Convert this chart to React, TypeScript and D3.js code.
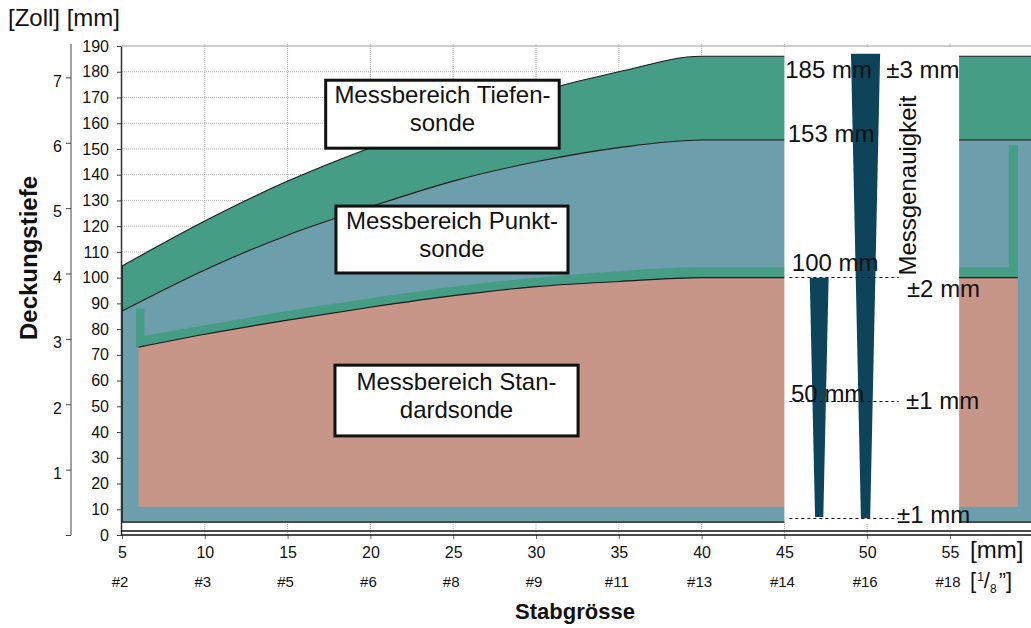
import React, { useEffect, useRef } from 'react';
import * as d3 from 'd3';

// bar sizes (x) and tick labels
const X_TICKS = [5, 10, 15, 20, 25, 30, 35, 40, 45, 50, 55];
const BAR_NAMES = ['#2', '#3', '#5', '#6', '#8', '#9', '#11', '#13', '#14', '#16', '#18'];
const MM_TICKS = [0, 10, 20, 30, 40, 50, 60, 70, 80, 90, 100, 110, 120, 130, 140, 150, 160, 170, 180, 190];
const INCH_TICKS = [0, 1, 2, 3, 4, 5, 6, 7];
const GRID_Y = [10, 20, 30, 40, 50, 60, 70, 80, 90, 100, 110, 120, 130, 140, 150, 160, 170, 180];

// measuring ranges (cover depth in mm vs bar size in mm)
const CURVE_X = [5, 10, 15, 20, 25, 30, 35, 40, 60];
const TIEFEN_TOP = [104.5, 122, 137.5, 150.5, 162, 172, 180, 186, 186];
const PUNKT_TOP = [87, 103, 116.5, 127.5, 137.5, 145, 150.5, 153.5, 153.5];
const STD_X = [6, 10, 15, 20, 25, 30, 35, 40, 59.1];
const STD_TOP = [73, 78, 83.5, 88.5, 93, 96.5, 98.5, 100, 100];
const BAND_TOP = [77, 81.5, 87, 92, 96.5, 100, 102.5, 104, 104];
const BASE_DEPTH = 5;
const STD_BOTTOM = 11;
// the two vertical strips of the band: [x0, x1, bottom, top]
const BAND_BARS = [
    [5.85, 6.35, 73, 88],
    [58.55, 59.1, 100, 151.5],
];

// accuracy panel
const GAP = [45, 55.55];
// wedges: centre x, top depth, bottom depth, half width top, half width bottom
const WEDGES = [
    [47.1, 100, 7, 0.57, 0.25],
    [49.9, 187, 6.5, 0.88, 0.28],
];
const DASH_DEPTHS = [100.2, 52, 6.6];
const DEPTH_LABELS = [
    { text: '185 mm', x: 45.05, d: 177.5 },
    { text: '153 mm', x: 45.2, d: 152.7 },
    { text: '100 mm', x: 45.45, d: 102.6 },
    { text: '50 mm', x: 45.4, d: 51.7 },
];
const ACC_LABELS = [
    { text: '±3 mm', x: 51.15, d: 177.5 },
    { text: '±2 mm', x: 52.4, d: 92.5 },
    { text: '±1 mm', x: 52.35, d: 48.9 },
    { text: '±1 mm', x: 51.8, d: 4.6 },
];

// label boxes: x0, x1, top depth, bottom depth
const BOXES = [
    { lines: ['Messbereich Tiefen-', 'sonde'], box: [17.3, 31.4, 176.7, 150.3] },
    { lines: ['Messbereich Punkt-', 'sonde'], box: [17.92, 31.93, 127.8, 101.8] },
    { lines: ['Messbereich Stan-', 'dardsonde'], box: [17.86, 32.54, 66, 38.5] },
];

const FONT = '"Liberation Sans", Arial, sans-serif';
const GREEN = '#449d84';
const TEAL = '#6c9fab';
const SALMON = '#c89689';
const NAVY = '#0e4459';

export default function App() {
    const svgRef = useRef<SVGSVGElement>(null);

    useEffect(() => {
        if (!svgRef.current) return;
        const svg = d3.select(svgRef.current);
        svg.selectAll('*').remove();

        const x = d3.scaleLinear().domain([5, 60]).range([122, 1032.8]);
        const y = d3.scaleLinear().domain([0, 190]).range([535, 46]);
        const yIn = d3.scaleLinear().domain([0, 190 / 25.4]).range([535, 46]);

        // grid
        const grid = svg.append('g');
        GRID_Y.forEach(v => {
            grid.append('line')
                .attr('x1', x(5)).attr('x2', x(60))
                .attr('y1', y(v)).attr('y2', y(v))
                .attr('stroke', '#b5b5b5').attr('stroke-width', 1)
                .attr('stroke-dasharray', '1,1');
        });
        X_TICKS.slice(1).forEach(v => {
            grid.append('line')
                .attr('x1', x(v)).attr('x2', x(v))
                .attr('y1', y(0)).attr('y2', y(190) - 3)
                .attr('stroke', '#b5b5b5').attr('stroke-width', 1)
                .attr('stroke-dasharray', '1,1');
        });
        grid.append('line')
            .attr('x1', x(5)).attr('x2', x(60))
            .attr('y1', y(190)).attr('y2', y(190))
            .attr('stroke', '#999').attr('stroke-width', 1.2);

        // areas
        const areas = svg.append('g');
        const idx = CURVE_X.map((_, i) => i);
        const areaBetween = (xs: number[], lo: (i: number) => number, hi: (i: number) => number) =>
            d3.area<number>()
                .x(i => x(xs[i]))
                .y0(i => y(lo(i)))
                .y1(i => y(hi(i)))
                .curve(d3.curveMonotoneX);

        areas.append('path')
            .attr('d', areaBetween(CURVE_X, () => BASE_DEPTH, i => PUNKT_TOP[i])(idx))
            .attr('fill', TEAL);
        areas.append('path')
            .attr('d', areaBetween(CURVE_X, i => PUNKT_TOP[i], i => TIEFEN_TOP[i])(idx))
            .attr('fill', GREEN);

        const sIdx = STD_X.map((_, i) => i);
        areas.append('path')
            .attr('d', areaBetween(STD_X, () => STD_BOTTOM, i => STD_TOP[i])(sIdx))
            .attr('fill', SALMON);
        areas.append('path')
            .attr('d', areaBetween(STD_X, i => STD_TOP[i], i => BAND_TOP[i])(sIdx))
            .attr('fill', GREEN);
        BAND_BARS.forEach(([x0, x1, b, t]) => {
            areas.append('rect')
                .attr('x', x(x0)).attr('width', x(x1) - x(x0))
                .attr('y', y(t)).attr('height', y(b) - y(t))
                .attr('fill', GREEN);
        });

        // outlines
        const line = (xs: number[], ys: number[]) =>
            d3.line<number>().x(i => x(xs[i])).y(i => y(ys[i])).curve(d3.curveMonotoneX)(xs.map((_, i) => i));
        [TIEFEN_TOP, PUNKT_TOP].forEach(ys => {
            areas.append('path').attr('d', line(CURVE_X, ys)).attr('fill', 'none')
                .attr('stroke', '#1a1a1a').attr('stroke-width', 1.1);
        });
        areas.append('path').attr('d', line(STD_X, STD_TOP)).attr('fill', 'none')
            .attr('stroke', '#1a1a1a').attr('stroke-width', 1.1);
        areas.append('line')
            .attr('x1', x(5)).attr('x2', x(5)).attr('y1', y(BASE_DEPTH)).attr('y2', y(TIEFEN_TOP[0]))
            .attr('stroke', '#111').attr('stroke-width', 1.5);
        areas.append('line')
            .attr('x1', x(5)).attr('x2', x(60)).attr('y1', y(BASE_DEPTH)).attr('y2', y(BASE_DEPTH))
            .attr('stroke', '#111').attr('stroke-width', 1.2);

        // accuracy panel
        const panel = svg.append('g');
        panel.append('rect')
            .attr('x', x(GAP[0])).attr('width', x(GAP[1]) - x(GAP[0]))
            .attr('y', y(190) + 1).attr('height', y(BASE_DEPTH) - y(190) + 1)
            .attr('fill', '#fff');
        WEDGES.forEach(([cx, top, bottom, wt, wb]) => {
            const pts: [number, number][] = [
                [x(cx - wt), y(top)], [x(cx + wt), y(top)],
                [x(cx + wb), y(bottom)], [x(cx - wb), y(bottom)],
            ];
            panel.append('polygon')
                .attr('points', pts.map(p => p.join(',')).join(' '))
                .attr('fill', NAVY);
        });
        DASH_DEPTHS.forEach(d => {
            const yy = Math.round(y(d)) + 0.5;
            panel.append('line')
                .attr('x1', x(45.3)).attr('x2', x(51.9))
                .attr('y1', yy).attr('y2', yy)
                .attr('stroke', '#111').attr('stroke-width', 1)
                .attr('stroke-dasharray', '3,3');
        });
        [...DEPTH_LABELS, ...ACC_LABELS].forEach(l => {
            panel.append('text')
                .attr('x', x(l.x)).attr('y', y(l.d))
                .style('font-family', FONT).style('font-size', '24px')
                .attr('fill', '#111')
                .text(l.text);
        });
        panel.append('text')
            .attr('transform', `translate(${x(52.95)},${y(100.8)}) rotate(-90)`)
            .style('font-family', FONT).style('font-size', '24px')
            .attr('fill', '#111')
            .text('Messgenauigkeit');

        // label boxes
        BOXES.forEach(b => {
            const [x0, x1, t, bt] = b.box;
            const g = svg.append('g');
            g.append('rect')
                .attr('x', x(x0)).attr('y', y(t))
                .attr('width', x(x1) - x(x0)).attr('height', y(bt) - y(t))
                .attr('fill', '#fff').attr('stroke', '#111').attr('stroke-width', 3);
            const cxp = (x(x0) + x(x1)) / 2;
            const cyp = (y(t) + y(bt)) / 2;
            b.lines.forEach((s, i) => {
                g.append('text')
                    .attr('x', cxp).attr('y', cyp - 11 + i * 28)
                    .attr('text-anchor', 'middle')
                    .style('font-family', FONT).style('font-size', '24px')
                    .attr('fill', '#111')
                    .text(s);
            });
        });

        // axes
        const mmAxis = svg.append('g')
            .attr('transform', `translate(${x(5) - 1},0)`)
            .call(d3.axisLeft(y).tickValues(MM_TICKS).tickSize(4).tickPadding(8).tickSizeOuter(0));
        mmAxis.selectAll('text').style('font-family', FONT).style('font-size', '16px').attr('fill', '#111');
        mmAxis.selectAll('line').attr('stroke', '#444');
        mmAxis.select('.domain').attr('stroke', '#333').attr('stroke-width', 1.5);

        const inAxis = svg.append('g')
            .attr('transform', 'translate(71,0)')
            .call(d3.axisLeft(yIn).tickValues(INCH_TICKS).tickSize(5).tickPadding(4).tickSizeOuter(0)
                .tickFormat(d => (d === 0 ? '' : String(d))));
        inAxis.selectAll('text').style('font-family', FONT).style('font-size', '16px').attr('fill', '#111')
            .attr('dy', '0.55em');
        inAxis.selectAll('line').attr('stroke', '#444');
        inAxis.select('.domain').attr('stroke', '#444').attr('d', `M0,${y(0)}V${y(190) - 2}`);

        const xAxis = svg.append('g')
            .attr('transform', `translate(0,${y(0)})`)
            .call(d3.axisBottom(x).tickValues(X_TICKS).tickSize(4).tickPadding(8).tickSizeOuter(0));
        xAxis.selectAll('text').style('font-family', FONT).style('font-size', '16px').attr('fill', '#111');
        xAxis.selectAll('line').attr('stroke', '#666');
        xAxis.select('.domain').remove();
        [y(0), y(0) - 4].forEach(yy => {
            svg.append('line')
                .attr('x1', x(5) - 1).attr('x2', 1031)
                .attr('y1', yy).attr('y2', yy)
                .attr('stroke', '#111').attr('stroke-width', 1.5);
        });

        X_TICKS.forEach((v, i) => {
            svg.append('text')
                .attr('x', x(v) - 2).attr('y', 587)
                .attr('text-anchor', 'middle')
                .style('font-family', FONT).style('font-size', '15px')
                .attr('fill', '#111')
                .text(BAR_NAMES[i]);
        });

        // unit labels and titles
        svg.append('text')
            .attr('x', 8).attr('y', 26)
            .style('font-family', FONT).style('font-size', '24px').attr('fill', '#111')
            .text('[Zoll] [mm]');
        svg.append('text')
            .attr('x', 970).attr('y', 558)
            .style('font-family', FONT).style('font-size', '24px').attr('fill', '#111')
            .text('[mm]');
        const frac = svg.append('text')
            .attr('x', 970).attr('y', 588)
            .style('font-family', FONT).style('font-size', '22px').attr('fill', '#111');
        frac.append('tspan').text('[');
        frac.append('tspan').attr('dy', -7).attr('dx', 1).style('font-size', '12px').text('1');
        frac.append('tspan').attr('dy', 7).text('/');
        frac.append('tspan').attr('dy', 5).style('font-size', '12px').text('8');
        frac.append('tspan').attr('dy', -5).attr('dx', 2).text('”]');

        svg.append('text')
            .attr('x', 575).attr('y', 619)
            .attr('text-anchor', 'middle')
            .style('font-family', FONT).style('font-size', '22px').style('font-weight', 'bold')
            .attr('fill', '#111')
            .text('Stabgrösse');
        svg.append('text')
            .attr('transform', 'translate(37,258) rotate(-90)')
            .attr('text-anchor', 'middle')
            .style('font-family', FONT).style('font-size', '24px').style('font-weight', 'bold')
            .attr('fill', '#111')
            .text('Deckungstiefe');
    }, []);

    return (
        <svg
            ref={svgRef}
            width={1031}
            height={628}
            style={{ position: 'absolute', left: 0, top: 0, background: '#fff' }}
        />
    );
}
